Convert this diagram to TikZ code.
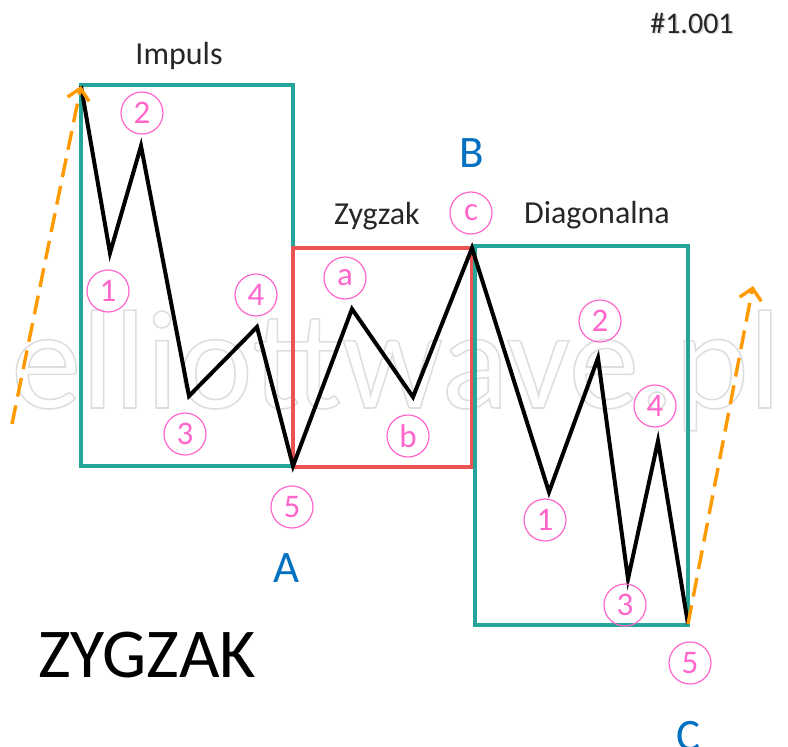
\documentclass[tikz,border=0pt]{standalone}
\usepackage{fontspec}
\setmainfont{Carlito}
\usepackage{xcolor}
\usetikzlibrary{arrows.meta}

\definecolor{boxteal}{RGB}{38,166,154}
\definecolor{boxred}{RGB}{236,84,84}
\definecolor{wavepink}{RGB}{255,102,204}
\definecolor{trendorange}{RGB}{255,153,0}
\definecolor{pointblue}{RGB}{0,112,192}

\begin{document}
\begin{tikzpicture}[
    x=1pt, y=-1pt,
    wave/.style={draw=black, line width=4pt, line join=miter},
    frame/.style={line width=3.4pt},
    count/.style={circle, draw=wavepink, line width=1.2pt, minimum size=42pt, inner sep=0pt,
      text=wavepink, font=\fontsize{33}{33}\selectfont},
    label/.style={font=\fontsize{32}{32}\selectfont, text=black!85},
    point/.style={font=\fontsize{45}{45}\selectfont, text=pointblue},
    trend/.style={draw=trendorange, line width=3.4pt, dash pattern=on 19pt off 9pt,
      -{Straight Barb[length=11pt,width=22pt]}},
  ]
    \useasboundingbox (0,0) rectangle (788,747);

    % watermark
    \begin{scope}
      \clip (0,0) rectangle (788,747);
      \node[anchor=base west, inner sep=0pt, text=black!13, font=\fontsize{141}{143}\selectfont] (mark) at (11,408)
        {\special{pdf:literal direct 1 Tr 1.6 w}elliottwave.pl\special{pdf:literal direct 0 Tr}};
    \end{scope}

    % wave points
    \coordinate (i0) at (81,86);
    \coordinate (i1) at (110,253);
    \coordinate (i2) at (141,146);
    \coordinate (i3) at (189,396);
    \coordinate (i4) at (257,327);
    \coordinate (i5) at (293,466);
    \coordinate (z1) at (352,309);
    \coordinate (z2) at (413,397);
    \coordinate (z3) at (472,248);
    \coordinate (d1) at (549,492);
    \coordinate (d2) at (598,358);
    \coordinate (d3) at (628,579);
    \coordinate (d4) at (658,441);
    \coordinate (d5) at (688,624);

    % boxes
    \draw[frame, draw=boxteal] (81,85) rectangle (293,466);
    \draw[frame, draw=boxred] (293,248) rectangle (472,467);
    \draw[frame, draw=boxteal] (475,246) rectangle (688,625);

    \draw[wave] (i0) -- (i1) -- (i2) -- (i3) -- (i4) -- (i5)
      -- (z1) -- (z2) -- (z3)
      -- (d1) -- (d2) -- (d3) -- (d4) -- (d5);

    % trend arrows
    \coordinate (lstart) at (12,424);
    \coordinate (rtip) at (753,286);
    \draw[trend] (lstart) -- (i0);
    \draw[trend] (d5) -- (rtip);

    % wave counts
    \foreach \n/\x/\y in {1/108/291, 2/142/113, 3/185/434, 4/256/295, 5/292/507}
      \node[count] (ic\n) at (\x,\y) {\n};
    \foreach \n/\x/\y in {a/345/278, b/408/436, c/471/213}
      \node[count] (zc\n) at (\x,\y) {\n};
    \foreach \n/\x/\y in {1/545/520, 2/600/321, 3/625/605, 4/655/406, 5/690/663}
      \node[count] (dc\n) at (\x,\y) {\n};

    % titles
    \node[label] (impuls) at (179,56) {Impuls};
    \node[label] (zygzak) at (377,216) {Zygzak};
    \node[label] (diag) at (597,215) {Diagonalna};
    \node[font=\fontsize{30}{30}\selectfont, text=black!15] at (693.5,24.5) {\#1.001};
    \node[font=\fontsize{30}{30}\selectfont, text=black!85] (code) at (692,23) {\#1.001};
    \node[font=\fontsize{70}{70}\selectfont] (name) at (147,655) {ZYGZAK};

    \node[point] (ptA) at (287,568) {A};
    \node[point] (ptB) at (472,153) {B};
    \node[point] (ptC) at (688,736) {C};
  \end{tikzpicture}
\end{document}
